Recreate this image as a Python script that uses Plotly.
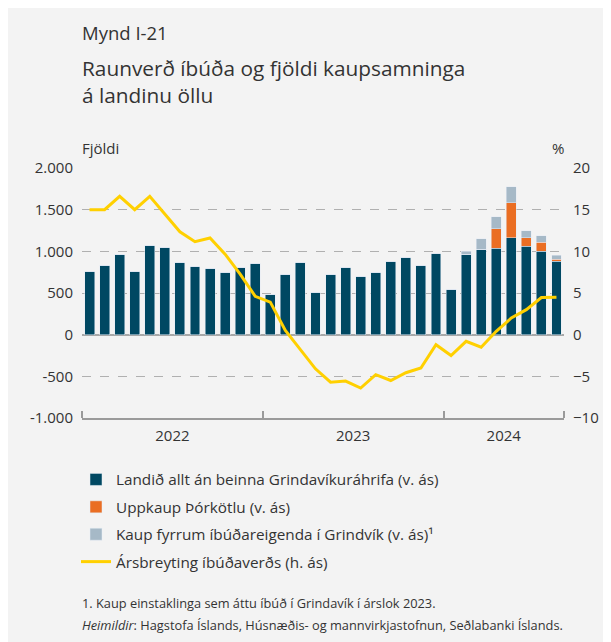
import plotly.graph_objects as go

# ---- data ----
months = list(range(32))  # Jan 2022 .. Aug 2024
year_labels = ["2022", "2023", "2024"]
landid = [763, 835, 968, 763, 1076, 1052, 871, 823, 799, 751, 811, 859,
          486, 727, 871, 510, 727, 811, 703, 751, 884, 932, 835, 980,
          546, 968, 1028, 1040, 1161, 1064, 1004, 884]
thorkatla = [0]*27 + [229, 421, 97, 108, 24]
grindvik = [0]*25 + [36, 121, 145, 193, 84, 73, 48]
arsbreyting = [15.0, 15.0, 16.6, 15.0, 16.6, 14.5, 12.35, 11.15, 11.6, 9.66, 7.26, 4.6,
               3.9, 0.5, -1.8, -4.1, -5.7, -5.57, -6.4, -4.8, -5.5, -4.57, -4.0, -1.2,
               -2.5, -0.8, -1.5, 0.4, 2.0, 3.0, 4.45, 4.5]
left_ticks = [-1000, -500, 0, 500, 1000, 1500, 2000]
left_ticktext = ["-1.000", "-500", "0", "500", "1.000", "1.500", "2.000"]
right_ticks = [-10, -5, 0, 5, 10, 15, 20]

names = ["Landið allt án beinna Grindavíkuráhrifa (v. ás)",
         "Uppkaup Þórkötlu (v. ás)",
         "Kaup fyrrum íbúðareigenda í Grindvík (v. ás)¹",
         "Ársbreyting íbúðaverðs (h. ás)"]

C_DARK = "#004862"
C_ORANGE = "#ea6e23"
C_LIGHT = "#a6b9c7"
C_YELLOW = "#ffd000"
BG = "#f3f3f3"
TXT = "#333333"
FONT = "Open Sans, Noto Sans, sans-serif"

OFF = 8  # page body margin
W, H = 611 - OFF, 642 - OFF
# plot area in page coordinates
L, R, T, B = 82, 564, 168, 418

def px(x):
    return (x - L) / (R - L)

def py(y):
    return (B - y) / (B - T)

fig = go.Figure()
fig.add_bar(x=months, y=landid, name=names[0], marker_color=C_DARK, legendgroup="a")
fig.add_bar(x=months, y=thorkatla, name=names[1], marker_color=C_ORANGE, legendgroup="b")
fig.add_bar(x=months, y=grindvik, name=names[2], marker_color=C_LIGHT, legendgroup="c")
fig.add_scatter(x=months, y=arsbreyting, name=names[3], yaxis="y2", mode="lines",
                line=dict(color=C_YELLOW, width=3), legendgroup="d")

fig.update_layout(
    width=W, height=H,
    margin=dict(l=L - OFF, r=611 - R, t=T - OFF, b=642 - B, pad=0),
    paper_bgcolor=BG, plot_bgcolor=BG,
    font=dict(family=FONT, size=15, color=TXT),
    barmode="stack", bargap=0.34,
    showlegend=True,
    legend=dict(x=px(76), y=py(463), xanchor="left", yanchor="top",
                bgcolor="rgba(0,0,0,0)", traceorder="grouped", tracegroupgap=4.5,
                font=dict(size=15.3, color=TXT), itemwidth=30),
    xaxis=dict(range=[-0.5, 31.5], tickvals=[5.5, 17.5, 27.5], ticktext=year_labels,
               ticks="", showgrid=False, zeroline=False, showline=True,
               linecolor="#9a9a9a", linewidth=1.5, ticklabelstandoff=3,
               minor=dict(tickvals=[-0.5, 11.5, 23.5, 31.5], ticks="inside", ticklen=7,
                          tickcolor="#9a9a9a", tickwidth=1.5, showgrid=False),
               tickfont=dict(size=15), fixedrange=True),
    yaxis=dict(range=[-1000, 2000], tickvals=left_ticks, ticktext=left_ticktext,
               showgrid=True, gridcolor="#b0b0b0", griddash="dash", gridwidth=1.2,
               zeroline=True, zerolinecolor="#a8a8a8", zerolinewidth=1.5,
               ticks="", ticklabelstandoff=8, tickfont=dict(size=15)),
    yaxis2=dict(range=[-10, 20], tickvals=right_ticks, overlaying="y", side="right",
                showgrid=False, zeroline=False, ticks="", ticklabelstandoff=8,
                tickfont=dict(size=15)),
)

ann = [
    dict(text="Mynd I-21", x=px(80), y=py(32), size=18.5),
    dict(text="Raunverð íbúða og fjöldi kaupsamninga<br>á landinu öllu", x=px(80), y=py(82), size=20.8),
    dict(text="Fjöldi", x=px(80), y=py(148), size=15),
    dict(text="1. Kaup einstaklinga sem áttu íbúð í Grindavík í árslok 2023.", x=px(80), y=py(603), size=12.8),
    dict(text="<i>Heimildir</i>: Hagstofa Íslands, Húsnæðis- og mannvirkjastofnun, Seðlabanki Íslands.",
         x=px(80), y=py(625), size=12.8),
]
for a in ann:
    fig.add_annotation(text=a["text"], x=a["x"], y=a["y"], xref="paper", yref="paper",
                       xanchor="left", yanchor="middle", showarrow=False, align="left",
                       font=dict(size=a["size"], color=TXT, family=FONT))
fig.add_annotation(text="%", x=px(566), y=py(148), xref="paper", yref="paper",
                   xanchor="right", yanchor="middle", showarrow=False,
                   font=dict(size=15, color=TXT, family=FONT))

fig.write_html("out.html")
